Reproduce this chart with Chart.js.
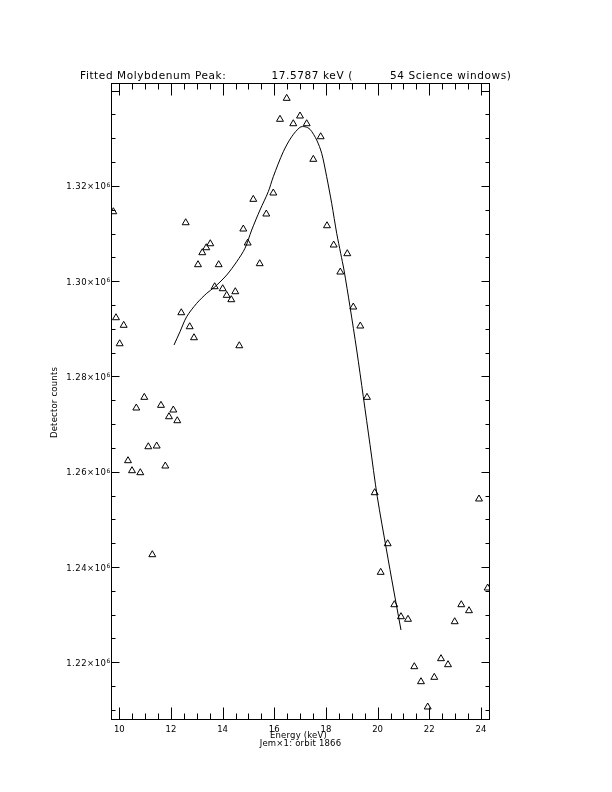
<!DOCTYPE html>
<html>
<head>
<meta charset="utf-8">
<title>Fitted Molybdenum Peak</title>
<script src="https://cdn.jsdelivr.net/npm/chart.js@4.4.0/dist/chart.umd.min.js"></script>
<style>
    body { margin: 0; background: #fff; }
    #wrapper { width: 612px; height: 792px; }
</style>
</head>
<body>
<div id="wrapper"><canvas id="peakChart" width="612" height="792"></canvas></div>
<script>
// measured detector counts per energy bin
const energy = [
    9.768, 9.872, 10.015, 10.170, 10.337, 10.492, 10.658, 10.813, 10.968, 11.123,
    11.278, 11.448, 11.614, 11.781, 11.924, 12.091, 12.245, 12.400, 12.571, 12.726,
    12.892, 13.047, 13.213, 13.368, 13.523, 13.693, 13.848, 14.003, 14.158, 14.336,
    14.491, 14.646, 14.801, 14.971, 15.188, 15.436, 15.691, 15.962, 16.221, 16.481,
    16.736, 16.996, 17.255, 17.511, 17.797, 18.041, 18.300, 18.556, 18.827, 19.059,
    19.330, 19.590, 19.888, 20.120, 20.391, 20.647, 20.906, 21.177, 21.421, 21.680,
    21.940, 22.195, 22.455, 22.726, 22.985, 23.240, 23.539, 23.926, 24.262
];
const counts = [
    1314580, 1292330, 1286870, 1290740, 1262320, 1260220, 1273380, 1259800, 1275620, 1265250,
    1242590, 1265400, 1273940, 1261200, 1271550, 1272960, 1270710, 1293380, 1312270, 1290440,
    1288130, 1303460, 1305980, 1307020, 1307860, 1298840, 1303460, 1298420, 1297030, 1296110,
    1297790, 1286450, 1310950, 1308010, 1317180, 1303670, 1314100, 1318510, 1333980, 1338380,
    1333050, 1334670, 1333050, 1325580, 1330320, 1311640, 1307590, 1301920, 1305770, 1294580,
    1290590, 1275620, 1255600, 1238890, 1244890, 1232090, 1229570, 1229030, 1219080, 1215930,
    1210620, 1216850, 1220760, 1219500, 1228520, 1232090, 1230830, 1254280, 1235600
];

// fitted peak curve
const fitEnergy = [
    12.118, 12.350, 12.609, 12.997, 13.384, 13.705, 14.158, 14.545, 14.866, 15.126,
    15.447, 15.768, 15.962, 16.349, 16.674, 16.996, 17.189, 17.383, 17.642, 17.836,
    18.029, 18.223, 18.417, 18.571, 18.699, 18.932, 19.191, 19.447, 19.706, 19.988,
    20.352, 20.608, 20.906
];
const fitCounts = [
    1286600, 1289390, 1292540, 1295350, 1297450, 1298840, 1301290, 1304090, 1306900, 1310740,
    1314940, 1318780, 1321930, 1327170, 1330320, 1332300, 1332420, 1331880, 1329630, 1326840,
    1321930, 1316340, 1310050, 1305850, 1302340, 1294640, 1285550, 1275750, 1265700, 1254760,
    1243360, 1235600, 1226780
];

const xTicks = [10, 12, 14, 16, 18, 20, 22, 24];
const xTickLabels = ['10', '12', '14', '16', '18', '20', '22', '24'];
const yTicks = [1220000, 1240000, 1260000, 1280000, 1300000, 1320000];
const yTickLabels = ['1.22×10', '1.24×10', '1.26×10', '1.28×10', '1.30×10', '1.32×10'];
const yTickExp = '6';

const titleParts = ['Fitted Molybdenum Peak:', '17.5787 keV (', '54 Science windows)'];
const xTitle = 'Energy (keV)';
const yTitle = 'Detector counts';
const subTitle = 'Jem×1: orbit 1866';

const FONT = '"DejaVu Sans", sans-serif';

// IDL-style box axes with inward ticks, all text drawn here
const idlAxes = {
    id: 'idlAxes',
    afterDraw(chart) {
        const { ctx, chartArea: area, scales } = chart;
        const xs = scales.x, ys = scales.y;
        const L = area.left + 0.5, R = area.right - 0.5;
        const T = area.top + 0.5, B = area.bottom - 0.5;

        ctx.save();
        ctx.strokeStyle = '#000';
        ctx.lineWidth = 1;
        ctx.strokeRect(L, T, R - L, B - T);

        ctx.beginPath();
        for (let v = 10; v <= 24.001; v += 0.5) {
            const px = Math.round(xs.getPixelForValue(v)) + 0.5;
            const len = v % 2 === 0 ? 12 : 6;
            ctx.moveTo(px, B); ctx.lineTo(px, B - len);
            ctx.moveTo(px, T); ctx.lineTo(px, T + len);
        }
        for (let v = 1210000; v <= ys.max; v += 5000) {
            const py = Math.round(ys.getPixelForValue(v)) + 0.5;
            const len = v % 20000 === 0 ? 8 : 4;
            ctx.moveTo(L, py); ctx.lineTo(L + len, py);
            ctx.moveTo(R, py); ctx.lineTo(R - len, py);
        }
        ctx.stroke();

        ctx.fillStyle = '#000';
        ctx.textBaseline = 'alphabetic';

        // x tick labels
        ctx.font = '8.5px ' + FONT;
        ctx.textAlign = 'center';
        xTicks.forEach((v, i) => {
            ctx.fillText(xTickLabels[i], xs.getPixelForValue(v), 731.5);
        });

        // y tick labels with exponent
        yTicks.forEach((v, i) => {
            const py = ys.getPixelForValue(v);
            ctx.font = '8.5px ' + FONT;
            ctx.letterSpacing = '0.5px';
            ctx.textAlign = 'right';
            ctx.fillText(yTickLabels[i], 106.5, py + 3.5);
            ctx.letterSpacing = '0px';
            ctx.font = '6px ' + FONT;
            ctx.textAlign = 'left';
            ctx.fillText(yTickExp, 106.5, py + 1);
        });

        // title
        ctx.font = '10.5px ' + FONT;
        ctx.letterSpacing = '0.6px';
        ctx.textAlign = 'left';
        ctx.fillText(titleParts[0], 80, 79);
        ctx.fillText(titleParts[1], 271.5, 79);
        ctx.fillText(titleParts[2], 390, 79);

        // axis titles
        ctx.font = '8.5px ' + FONT;
        ctx.letterSpacing = '0.2px';
        ctx.textAlign = 'center';
        ctx.fillText(xTitle, 298.5, 737.5);
        ctx.fillText(subTitle, 300.5, 745.5);

        ctx.translate(56.5, 402.5);
        ctx.rotate(-Math.PI / 2);
        ctx.fillText(yTitle, 0, 0);
        ctx.restore();
    }
};

const ctx = document.getElementById('peakChart').getContext('2d');
const peakChart = new Chart(ctx, {
    type: 'scatter',
    data: {
        datasets: [{
            label: 'Counts',
            data: energy.map((e, i) => ({ x: e, y: counts[i] })),
            pointStyle: 'triangle',
            pointRadius: 4,
            pointBorderWidth: 1,
            borderColor: '#000',
            backgroundColor: 'rgba(0, 0, 0, 0)',
            showLine: false
        }, {
            label: 'Fit',
            data: fitEnergy.map((e, i) => ({ x: e, y: fitCounts[i] })),
            showLine: true,
            borderColor: '#000',
            borderWidth: 1,
            pointRadius: 0,
            tension: 0.3,
            fill: false
        }]
    },
    options: {
        responsive: false,
        animation: false,
        devicePixelRatio: 1,
        layout: {
            padding: { left: 111, right: 122, top: 83, bottom: 72 }
        },
        plugins: {
            legend: { display: false },
            tooltip: { enabled: false }
        },
        scales: {
            x: { type: 'linear', min: 9.679, max: 24.352, display: false },
            y: { type: 'linear', min: 1207890, max: 1341600, display: false }
        }
    },
    plugins: [idlAxes]
});
</script>
</body>
</html>
